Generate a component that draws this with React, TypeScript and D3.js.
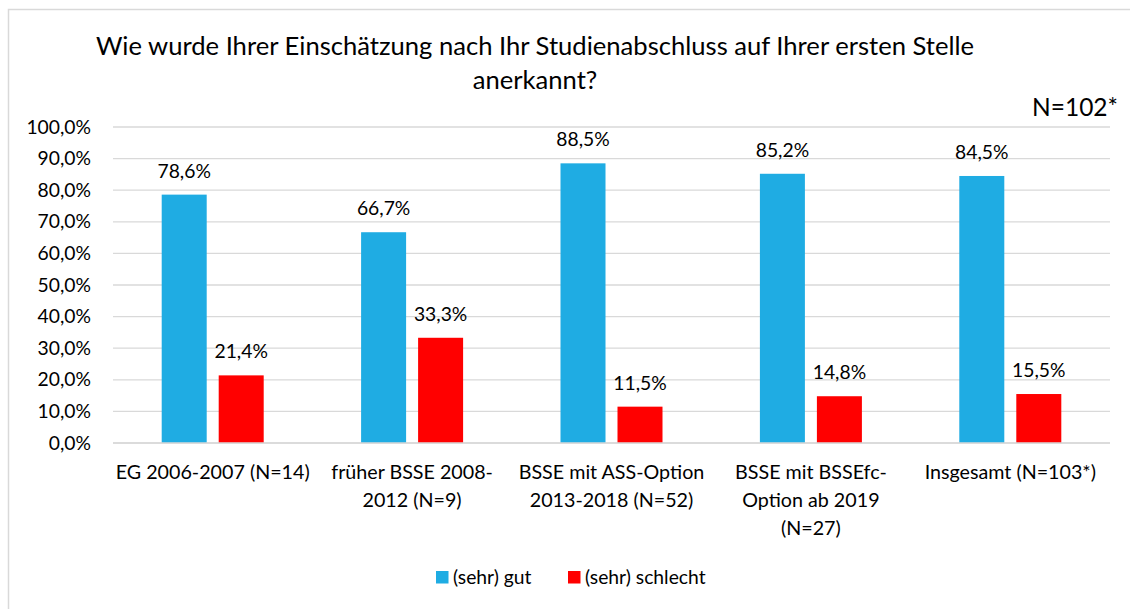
import React from "react";
import * as d3 from "d3";

const categories: string[][] = [
  ["EG 2006-2007 (N=14)"],
  ["früher BSSE 2008-", "2012 (N=9)"],
  ["BSSE mit ASS-Option", "2013-2018 (N=52)"],
  ["BSSE mit BSSEfc-", "Option ab 2019", "(N=27)"],
  ["Insgesamt (N=103*)"],
];
const gut: number[] = [78.6, 66.7, 88.5, 85.2, 84.5];
const schlecht: number[] = [21.4, 33.3, 11.5, 14.8, 15.5];
const seriesNames: string[] = ["(sehr) gut", "(sehr) schlecht"];
const seriesColors: string[] = ["#1FACE3", "#FF0000"];
const yTicks: number[] = [0, 10, 20, 30, 40, 50, 60, 70, 80, 90, 100];
const titleLines: string[] = [
  "Wie wurde Ihrer Einschätzung nach Ihr Studienabschluss auf Ihrer ersten Stelle",
  "anerkannt?",
];
const note = "N=102*";

const W = 1130;
const H = 609;
const FONT = "Lato, 'Open Sans', sans-serif";
const fmt = (v: number) => v.toFixed(1).replace(".", ",") + "%";

export default function App() {
  const plotL = 113;
  const plotR = 1110;
  const y = d3.scaleLinear().domain([0, 100]).range([443, 127]);
  const x = d3
    .scaleBand<number>()
    .domain(d3.range(categories.length))
    .range([plotL, plotR])
    .padding(0);
  const barW = 45;
  const gap = 12;
  const series = [gut, schlecht];

  return (
    <svg
      width={W}
      height={H}
      style={{ position: "absolute", left: 0, top: 0, background: "#fff" }}
      fontFamily={FONT}
    >
      <rect x={8.5} y={9.5} width={W + 20} height={H + 20} fill="#fff" stroke="#D9D9D9" strokeWidth={1.5} />
      {titleLines.map((t, i) => (
        <text key={i} x={535} y={55 + i * 34} textAnchor="middle" fontSize={25.6} fill="#000">
          {t}
        </text>
      ))}
      <text x={1118} y={116} textAnchor="end" fontSize={24.5} fill="#000">
        {note}
      </text>
      {yTicks.map((t) => (
        <g key={t}>
          <line x1={plotL} x2={plotR} y1={y(t)} y2={y(t)} stroke="#D9D9D9" strokeWidth={1.3} />
          <text x={91} y={y(t) + 6.5} textAnchor="end" fontSize={19.3} fill="#000">
            {fmt(t)}
          </text>
        </g>
      ))}
      {categories.map((lines, ci) => {
        const cx = x(ci)! + x.bandwidth() / 2;
        const groupW = barW * 2 + gap;
        return (
          <g key={ci}>
            {series.map((s, si) => {
              const bx = cx - groupW / 2 + si * (barW + gap);
              return (
                <g key={si}>
                  <rect
                    x={bx}
                    y={y(s[ci])}
                    width={barW}
                    height={y(0) - y(s[ci])}
                    fill={seriesColors[si]}
                  />
                  <text x={bx + barW / 2} y={y(s[ci]) - 17} textAnchor="middle" fontSize={19.3} fill="#000">
                    {fmt(s[ci])}
                  </text>
                </g>
              );
            })}
            {lines.map((ln, li) => (
              <text key={li} x={cx} y={479 + li * 27.8} textAnchor="middle" fontSize={19.7} fill="#000">
                {ln}
              </text>
            ))}
          </g>
        );
      })}
      <line x1={plotL} x2={plotR} y1={y(0)} y2={y(0)} stroke="#D9D9D9" strokeWidth={1.3} />
      {seriesNames.map((n, i) => {
        const lx = i === 0 ? 436 : 568;
        return (
          <g key={n}>
            <rect x={lx} y={571} width={12.5} height={12.5} fill={seriesColors[i]} />
            <text x={lx + 17} y={584} fontSize={19.3} fill="#000">
              {n}
            </text>
          </g>
        );
      })}
    </svg>
  );
}
